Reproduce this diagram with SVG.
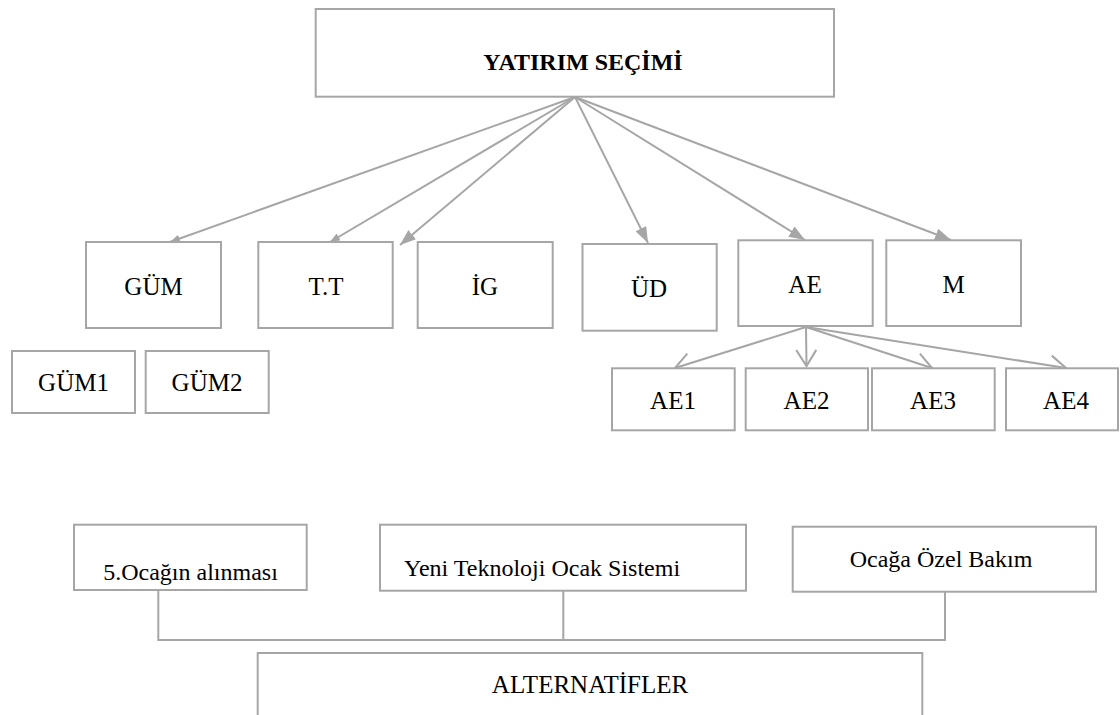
<svg xmlns="http://www.w3.org/2000/svg" width="1120" height="715" viewBox="0 0 1120 715">
  <style>
    .box { fill: #ffffff; stroke: #a6a6a6; stroke-width: 2; }
    .ln { fill: none; stroke: #a6a6a6; stroke-width: 2; }
    .t { font-family: "Liberation Serif", "Times New Roman", serif; fill: #000000; font-size: 25px; text-anchor: middle; }
    .tb { font-size: 24px; }
    .title { font-weight: bold; font-size: 24px; }
  </style>
  <defs>
    <marker id="big" markerUnits="userSpaceOnUse" viewBox="0 0 16 12" refX="16" refY="6" markerWidth="16" markerHeight="12" orient="auto">
      <path d="M0,0 L16,6 L0,12 z" fill="#a6a6a6"/>
    </marker>
    <marker id="small" markerUnits="userSpaceOnUse" viewBox="0 0 10 8" refX="10" refY="4" markerWidth="10" markerHeight="8" orient="auto">
      <path d="M0,0 L10,4 L0,8 z" fill="#a6a6a6"/>
    </marker>
    <marker id="open" markerUnits="userSpaceOnUse" viewBox="0 0 20 22" refX="18" refY="11" markerWidth="20" markerHeight="22" orient="auto" overflow="visible">
      <path d="M2,1 L18,11 L2,21" fill="none" stroke="#a6a6a6" stroke-width="2"/>
    </marker>
  </defs>

  <g id="connectors">
    <line class="ln" x1="575" y1="97" x2="170" y2="242" marker-end="url(#small)"/>
    <line class="ln" x1="575" y1="97" x2="330" y2="242" marker-end="url(#small)"/>
    <line class="ln" x1="575" y1="97" x2="400" y2="245" marker-end="url(#big)"/>
    <line class="ln" x1="575" y1="97" x2="648" y2="243" marker-end="url(#big)"/>
    <line class="ln" x1="575" y1="97" x2="805" y2="240" marker-end="url(#big)"/>
    <line class="ln" x1="575" y1="97" x2="951" y2="240" marker-end="url(#big)"/>
    <line class="ln" x1="806" y1="327" x2="675" y2="368" marker-end="url(#open)"/>
    <line class="ln" x1="806" y1="327" x2="806.5" y2="366" marker-end="url(#open)"/>
    <line class="ln" x1="806" y1="327" x2="932" y2="368" marker-end="url(#open)"/>
    <line class="ln" x1="806" y1="327" x2="1066" y2="368" marker-end="url(#open)"/>
    <polyline class="ln" points="158.3,590 158.3,640 945,640 945,592"/>
    <line class="ln" x1="563.3" y1="591" x2="563.3" y2="640"/>
  </g>

  <g id="yatirim-secimi">
    <rect class="box" x="315.7" y="9" width="518.3" height="87.7"/>
    <text class="t title" x="583" y="69.5">YATIRIM SEÇİMİ</text>
  </g>

  <g id="gum">
    <rect class="box" x="86" y="242" width="135" height="86"/>
    <text class="t" x="153.5" y="295">GÜM</text>
  </g>
  <g id="tt">
    <rect class="box" x="258.3" y="242" width="134.4" height="86"/>
    <text class="t" x="326" y="295">T.T</text>
  </g>
  <g id="ig">
    <rect class="box" x="417.7" y="242" width="135" height="86"/>
    <text class="t" x="485" y="295">İG</text>
  </g>
  <g id="ud">
    <rect class="box" x="582.5" y="244" width="134.2" height="86.7"/>
    <text class="t" x="649" y="296.7">ÜD</text>
  </g>
  <g id="ae">
    <rect class="box" x="738.3" y="240.3" width="134.4" height="85.7"/>
    <text class="t" x="805" y="293.3">AE</text>
  </g>
  <g id="m">
    <rect class="box" x="886.3" y="240.3" width="134.7" height="85.7"/>
    <text class="t" x="953.5" y="293.3">M</text>
  </g>

  <g id="gum1">
    <rect class="box" x="12" y="351" width="123" height="62"/>
    <text class="t" x="73.5" y="390.7">GÜM1</text>
  </g>
  <g id="gum2">
    <rect class="box" x="145.7" y="351" width="123" height="62"/>
    <text class="t" x="207" y="390.7">GÜM2</text>
  </g>

  <g id="ae1">
    <rect class="box" x="612" y="368.3" width="122.7" height="62"/>
    <text class="t" x="673" y="409">AE1</text>
  </g>
  <g id="ae2">
    <rect class="box" x="745.7" y="368.3" width="122.3" height="62"/>
    <text class="t" x="806.5" y="409">AE2</text>
  </g>
  <g id="ae3">
    <rect class="box" x="872" y="368.3" width="122.7" height="62"/>
    <text class="t" x="933" y="409">AE3</text>
  </g>
  <g id="ae4">
    <rect class="box" x="1006" y="368.3" width="112" height="62"/>
    <text class="t" x="1066" y="409">AE4</text>
  </g>

  <g id="ocagin-alinmasi">
    <rect class="box" x="74" y="524.7" width="232.7" height="65.3"/>
    <text class="t tb" x="190.5" y="579.5">5.Ocağın alınması</text>
  </g>
  <g id="yeni-teknoloji">
    <rect class="box" x="380" y="524.7" width="366" height="66"/>
    <text class="t tb" x="404" y="576" style="text-anchor:start">Yeni Teknoloji Ocak Sistemi</text>
  </g>
  <g id="ocaga-ozel-bakim">
    <rect class="box" x="792.7" y="526.7" width="303.3" height="65"/>
    <text class="t tb" x="941" y="566.7">Ocağa Özel Bakım</text>
  </g>
  <g id="alternatifler">
    <rect class="box" x="257.7" y="653" width="664.6" height="80"/>
    <text class="t" x="590" y="693.3">ALTERNATİFLER</text>
  </g>
</svg>
